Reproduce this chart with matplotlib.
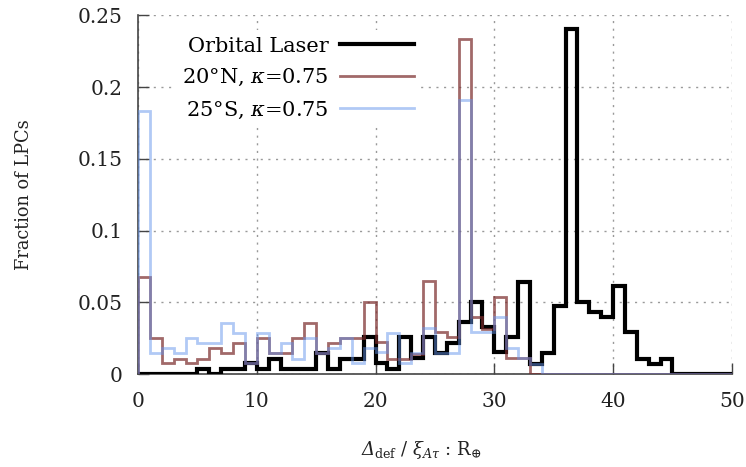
import numpy as np
import matplotlib
matplotlib.use("Agg")
import matplotlib.pyplot as plt
from matplotlib.offsetbox import TextArea, HPacker, AnchoredOffsetbox

plt.rcParams['font.family'] = ['DejaVu Serif']
plt.rcParams['mathtext.fontset'] = 'dejavuserif'

# bin edges 0..50, width 1
bin_edges = list(range(0, 51))

orbital_laser = [0, 0, 0, 0, 0, 0.0035, 0, 0.0035, 0.0035, 0.0077,
                 0.0035, 0.0105, 0.0035, 0.0035, 0.0035, 0.0147, 0.0035, 0.0105, 0.0105, 0.0256,
                 0.0077, 0.0035, 0.0256, 0.0112, 0.0256, 0.0147, 0.022, 0.036, 0.05, 0.0326,
                 0.0151, 0.0256, 0.064, 0.007, 0.015, 0.0477, 0.2407, 0.05, 0.043, 0.0395,
                 0.0616, 0.0296, 0.0105, 0.007, 0.0105, 0, 0, 0, 0, 0]

north20 = [0.068, 0.025, 0.0077, 0.0105, 0.0077, 0.0105, 0.018, 0.0147, 0.0217, 0.0077,
           0.025, 0.0147, 0.0147, 0.025, 0.0356, 0.0147, 0.0217, 0.025, 0.025, 0.05,
           0.0221, 0.0105, 0.0105, 0.014, 0.0647, 0.029, 0.0256, 0.2337, 0.0395, 0.0314,
           0.054, 0.0112, 0.0112, 0, 0, 0, 0, 0, 0, 0,
           0, 0, 0, 0, 0, 0, 0, 0, 0, 0]

south25 = [0.1837, 0.0147, 0.018, 0.0147, 0.025, 0.0217, 0.0217, 0.0356, 0.0287, 0.0077,
           0.0287, 0.0147, 0.0217, 0.0105, 0.025, 0.0147, 0.018, 0.025, 0.0077, 0.018,
           0.0151, 0.0287, 0.0077, 0.015, 0.032, 0.015, 0.0147, 0.191, 0.029, 0.029,
           0.0395, 0.018, 0.0112, 0.007, 0, 0, 0, 0, 0, 0,
           0, 0, 0, 0, 0, 0, 0, 0, 0, 0]

labels = ["Orbital Laser", "20°N, $\\kappa$=0.75", "25°S, $\\kappa$=0.75"]
x_ticks = [0, 10, 20, 30, 40, 50]
y_ticks = [0, 0.05, 0.1, 0.15, 0.2, 0.25]
y_ticklabels = ["0", "0.05", "0.1", "0.15", "0.2", "0.25"]

fig = plt.figure(figsize=(7.46, 4.67), dpi=100)
ax = fig.add_axes([0.185, 0.199, 0.796, 0.768])

ax.stairs(orbital_laser, bin_edges, color='black', lw=3.0, label=labels[0], zorder=3)
ax.stairs(north20, bin_edges, color='#7a2a2a', alpha=0.7, lw=2.0, label=labels[1], zorder=4)
ax.stairs(south25, bin_edges, color='#6495ED', alpha=0.5, lw=2.0, label=labels[2], zorder=5)

ax.set_xlim(0, 50)
ax.set_ylim(0, 0.25)
ax.set_xticks(x_ticks)
ax.set_yticks(y_ticks)
ax.set_yticklabels(y_ticklabels)

for s in ['top', 'right']:
    ax.spines[s].set_visible(False)
for s in ['left', 'bottom']:
    ax.spines[s].set_color('#444444')
    ax.spines[s].set_linewidth(1.2)

ax.tick_params(direction='in', length=8, width=1.0, color='#444444',
               labelsize=14.5, labelcolor='#222222', pad=11)
ax.tick_params(axis='x', pad=13)
ax.grid(True, linestyle=(0, (1.5, 4)), color='#999999', lw=1.0)
ax.set_axisbelow(True)

ax.set_ylabel("Fraction of LPCs", fontsize=12.8, labelpad=32, color='#222222')

# x label with italic capital Delta
lab_fs = 13
ta1 = TextArea("Δ", textprops=dict(fontsize=lab_fs, fontstyle='italic', color='#222222'))
ta2 = TextArea(r"$_{\rm def}$ / $\xi_{A\tau}$ : R$_{\oplus}$",
               textprops=dict(fontsize=lab_fs, color='#222222'))
pack = HPacker(children=[ta1, ta2], align='baseline', pad=0, sep=0)
anch = AnchoredOffsetbox(loc='center', child=pack, frameon=False, pad=0,
                         bbox_to_anchor=(0.565, 0.036), bbox_transform=fig.transFigure,
                         borderpad=0)
fig.add_artist(anch)

leg = ax.legend(loc='upper left', bbox_to_anchor=(0.064, 0.958), markerfirst=False,
                handlelength=3.55, labelspacing=0.54, fontsize=15, frameon=True,
                fancybox=False, borderpad=0.3, handletextpad=0.55, borderaxespad=0)
leg.get_frame().set_edgecolor('none')
leg.get_frame().set_facecolor('white')
leg.get_frame().set_alpha(1.0)
for t in leg.get_texts():
    t.set_ha('right')

fig.savefig("out.png", dpi=100)
